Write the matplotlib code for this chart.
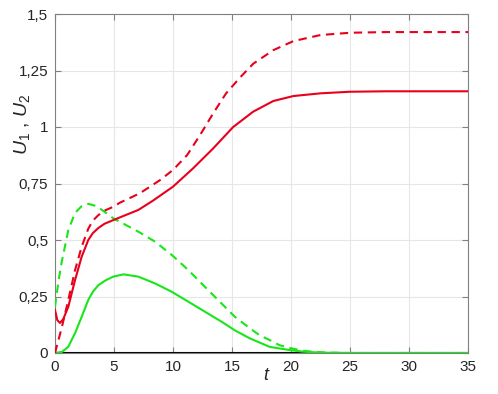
import matplotlib
matplotlib.use("Agg")
import matplotlib.pyplot as plt

plt.rcParams['font.family'] = ['Liberation Sans', 'DejaVu Sans']
plt.rcParams['mathtext.fontset'] = 'custom'
plt.rcParams['mathtext.it'] = 'Liberation Sans:italic'
plt.rcParams['mathtext.rm'] = 'Liberation Sans'

t_red_solid = [0, 0.2, 0.42, 0.7, 1.13, 1.7, 2.26, 2.82, 3.2, 3.67, 4.2, 4.94, 5.5, 7.06, 8.3,
               10.0, 11.7, 13.4, 15.1, 16.8, 18.5, 20.2, 22.5, 25, 28, 35]
u_red_solid = [0.19, 0.145, 0.133, 0.15, 0.205, 0.323, 0.426, 0.50, 0.53, 0.553, 0.572, 0.588,
               0.60, 0.633, 0.674, 0.736, 0.817, 0.905, 1.0, 1.068, 1.115, 1.137, 1.149, 1.156,
               1.158, 1.158]

t_red_dash = [0, 0.56, 1.13, 1.7, 2.26, 2.82, 3.2, 3.67, 4.2, 4.94, 5.5, 7.2, 8.9, 10.0, 11.2,
              12.3, 13.4, 14.5, 15.7, 16.8, 18.5, 20.2, 22.5, 25, 28, 35]
u_red_dash = [0.0, 0.11, 0.235, 0.367, 0.47, 0.55, 0.585, 0.61, 0.63, 0.647, 0.665, 0.707, 0.765,
              0.81, 0.876, 0.965, 1.06, 1.149, 1.22, 1.28, 1.34, 1.38, 1.407, 1.417, 1.42, 1.42]

t_green_dash = [0, 0.3, 0.56, 1.13, 1.7, 2.26, 2.82, 3.5, 4.2, 4.94, 7.06, 8.47, 9.89, 11.3,
                12.7, 14.1, 15.25, 16.5, 17.3, 18.2, 19.0, 19.9, 21, 22, 23, 25, 35]
u_green_dash = [0.205, 0.32, 0.40, 0.544, 0.62, 0.65, 0.66, 0.65, 0.625, 0.596, 0.537, 0.493,
                0.434, 0.367, 0.293, 0.22, 0.16, 0.11, 0.08, 0.057, 0.035, 0.022, 0.01, 0.005,
                0.002, 0.0, 0.0]

t_green_solid = [0, 0.6, 1.13, 1.7, 2.26, 2.82, 3.2, 3.67, 4.3, 4.94, 5.8, 7.06, 8.47, 9.89,
                 11.3, 12.7, 14.1, 15.25, 16.5, 18.2, 19.9, 21, 22, 23, 25, 35]
u_green_solid = [0.0, 0.005, 0.028, 0.088, 0.16, 0.235, 0.27, 0.30, 0.322, 0.338, 0.348, 0.338,
                 0.308, 0.271, 0.227, 0.183, 0.139, 0.10, 0.065, 0.027, 0.013, 0.006, 0.003,
                 0.001, 0.0, 0.0]

xticks = [0, 5, 10, 15, 20, 25, 30, 35]
yticks = [0, 0.25, 0.5, 0.75, 1, 1.25, 1.5]
ytick_labels = ['0', '0,25', '0,5', '0,75', '1', '1,25', '1,5']

fig = plt.figure(figsize=(4.98, 3.94), dpi=100)
ax = fig.add_axes([55/498, 1-353/394, (468-55)/498, (353-14)/394])

red = '#e8001c'
green = '#19e619'
dash = (0, (4, 2.7))
ax.plot(t_green_solid, u_green_solid, color=green, lw=1.5, zorder=3)
ax.plot(t_green_dash, u_green_dash, color=green, lw=1.5, ls=dash, zorder=3)
ax.plot(t_red_solid, u_red_solid, color=red, lw=1.5, zorder=4)
ax.plot(t_red_dash, u_red_dash, color=red, lw=1.5, ls=dash, zorder=4)
ax.axhline(0, color='black', lw=1.5, zorder=2)

ax.set_xlim(0, 35)
ax.set_ylim(0, 1.5)
ax.set_xticks(xticks)
ax.set_xticklabels([str(x) for x in xticks])
ax.set_yticks(yticks)
ax.set_yticklabels(ytick_labels)
ax.grid(True, color='#e6e6e6', lw=0.8)
ax.set_axisbelow(True)
for s in ax.spines.values():
    s.set_color('#808080')
    s.set_linewidth(0.8)
ax.tick_params(direction='in', top=True, right=True, length=4, color='#808080',
               labelsize=11, labelcolor='#262626', pad=5)

fig.text(22/498, 1-124/394, r'$\mathit{U_1}$ , $\mathit{U_2}$', fontsize=14,
         color='#262626', rotation=90, ha='center', va='center')
fig.text(266/498, 1-376/394, 't', fontsize=13, style='italic', color='#262626',
         ha='center', va='center')

fig.savefig('out.png', dpi=100)
